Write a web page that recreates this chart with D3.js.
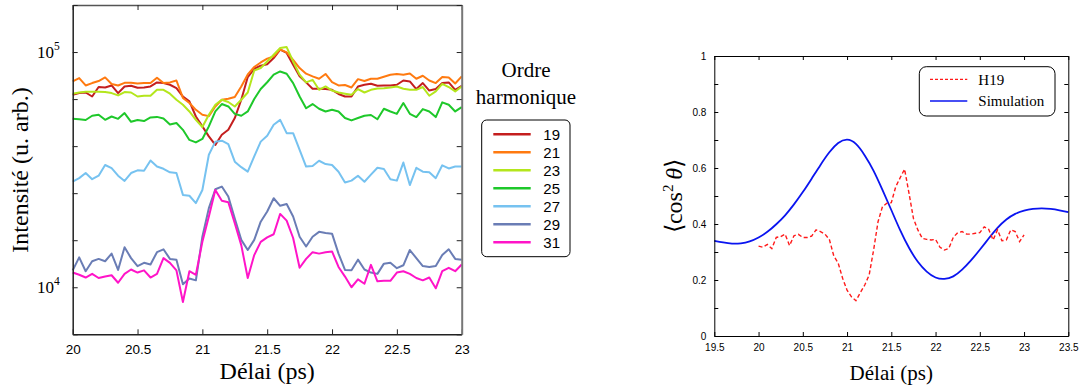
<!DOCTYPE html>
<html><head><meta charset="utf-8">
<script src="https://cdn.jsdelivr.net/npm/d3@7"></script>
<style>body{margin:0;background:#fff}svg{display:block}</style>
</head><body><svg id="c" width="1081" height="390"></svg>
<script>
// ---------- data ----------
const delays = [20,20.05,20.1,20.15,20.2,20.25,20.3,20.35,20.4,20.45,20.5,20.55,20.6,20.65,20.7,20.75,20.8,20.85,20.9,20.95,21,21.05,21.1,21.15,21.2,21.25,21.3,21.35,21.4,21.45,21.5,21.55,21.6,21.65,21.7,21.75,21.8,21.85,21.9,21.95,22,22.05,22.1,22.15,22.2,22.25,22.3,22.35,22.4,22.45,22.5,22.55,22.6,22.65,22.7,22.75,22.8,22.85,22.9,22.95,23];
const harmonics = ["19","21","23","25","27","29","31"];
const h19 = [65800,66900,67300,64700,71000,70700,72100,66900,71400,71900,70500,70700,71400,74300,73800,72600,70200,64700,61700,53200,48300,43800,40300,44500,46700,52400,62700,78300,84900,87500,88700,94300,102300,99100,88300,78800,74300,69800,69800,69600,69100,66300,64700,64700,71400,72600,73300,71900,72100,72100,72600,75700,75000,69600,73800,68600,69600,73800,74300,69100,71900];
const h21 = [75000,77500,72100,73800,75300,78000,73100,72100,74000,74000,73500,73800,73800,77800,73800,74300,75700,63800,60700,56800,54100,53400,58700,62700,63300,64400,71400,80300,86400,90300,93800,95800,102600,99700,92700,85500,80900,78800,77000,80700,74500,72100,72400,70700,76700,75300,77000,77000,78500,80100,80700,80100,81100,77000,79300,75700,73800,78300,78000,73500,78800];
const h23 = [66500,67300,67800,67800,67800,67600,66900,65400,67600,67300,64700,65200,65200,69100,69100,66500,62700,59700,55900,51500,48000,54100,59700,62700,61300,58700,62700,67300,83500,85500,91200,97400,104000,105000,91200,80100,74300,76200,69100,71400,68600,67300,66500,65800,69600,67300,69100,70000,70200,70700,71400,69800,69100,69100,71000,65200,68000,73300,71000,68000,71400];
const h25 = [52000,51800,51400,53600,54100,51500,53200,52000,55000,50500,51400,50900,52700,53000,52200,49200,49900,46700,42300,41300,42700,48300,55900,60100,58700,54600,53600,55900,63100,69600,74400,80100,82700,80900,73800,64700,57700,60100,57400,55900,56800,55900,52400,51200,52400,53600,54000,51800,57400,55900,54600,60700,54600,52900,57200,55900,52900,61100,59700,55900,58300];
const h27 = [28100,29100,30600,28800,29800,33100,32100,29800,28300,30600,31400,31300,34600,32600,31900,30800,30600,24700,24500,22800,25900,36600,41600,42000,40600,34200,32400,31000,36000,41600,44100,49100,51500,45200,45200,38400,32600,32800,34500,33400,33100,31000,27900,28400,29800,28100,30100,32200,31800,28800,28400,33900,27200,32200,31000,30800,29100,33000,32000,32600,32600];
const h29 = [11800,13400,11700,12900,13200,12900,13900,11850,14800,13300,12300,12700,12500,14100,14500,13200,13100,10300,10900,10700,16400,21700,26100,26800,24300,19600,15900,14400,15900,19000,21000,23900,22200,22600,20000,16400,14900,16400,17200,17000,16900,13900,11850,11800,13100,11900,11550,11400,12600,12700,12050,12400,14400,13300,12300,12200,12300,13700,14500,13200,13100];
const h31 = [11550,11300,11000,11400,10950,11100,11250,10450,11400,11900,11550,11800,11000,11400,13300,12700,11800,8650,11700,11300,15600,20000,25900,23300,23000,18700,15100,10950,13700,15600,16300,16800,20500,19200,16200,12100,13200,14100,13900,14100,14200,12200,11100,10000,10800,10350,12450,10600,10650,10650,11550,11700,11400,10950,10700,11000,9900,11700,12100,11700,12500];
const harmonicSeries = [h19,h21,h23,h25,h27,h29,h31];
const harmonicColors = ["#c41e1e","#ff7a10","#b4e61c","#1ec82a","#76c2f0","#6a7db5","#ff14c8"];

// right panel
const alignH19 = [0.321,0.317,0.327,0.312,0.352,0.355,0.364,0.323,0.358,0.363,0.352,0.352,0.357,0.379,0.373,0.364,0.345,0.286,0.260,0.206,0.164,0.140,0.126,0.155,0.182,0.218,0.307,0.408,0.462,0.474,0.476,0.533,0.565,0.596,0.510,0.420,0.379,0.349,0.345,0.343,0.345,0.317,0.307,0.313,0.352,0.369,0.373,0.364,0.364,0.367,0.369,0.390,0.381,0.343,0.379,0.340,0.343,0.379,0.373,0.337,0.361];
const simTimes = [19.5,19.6,19.7,19.8,19.9,20,20.1,20.2,20.3,20.4,20.5,20.6,20.7,20.8,20.9,21,21.1,21.2,21.3,21.4,21.5,21.6,21.7,21.8,21.9,22,22.1,22.2,22.3,22.4,22.5,22.6,22.7,22.8,22.9,23,23.1,23.2,23.3,23.4,23.5];
const simValues = [0.340,0.334,0.330,0.331,0.338,0.352,0.372,0.399,0.431,0.470,0.514,0.562,0.611,0.656,0.689,0.701,0.686,0.645,0.590,0.522,0.450,0.378,0.315,0.265,0.230,0.209,0.204,0.213,0.237,0.270,0.308,0.348,0.386,0.416,0.436,0.448,0.454,0.456,0.454,0.449,0.442];

// ticks
const leftXTicks = [20,20.5,21,21.5,22,22.5,23];
const leftYTickMarks = [Math.pow(10,3.8),1e4,Math.pow(10,4.2),Math.pow(10,4.4),Math.pow(10,4.6),Math.pow(10,4.8),1e5,Math.pow(10,5.2)];
const leftYLabels = [[1e4,"10","4"],[1e5,"10","5"]];
const rightXTicks = [19.5,20,20.5,21,21.5,22,22.5,23,23.5];
const rightYTicks = [0,0.1,0.2,0.3,0.4,0.5,0.6,0.7,0.8,0.9,1];
const rightYLabelTicks = [0,0.2,0.4,0.6,0.8,1];

// ---------- drawing ----------
const svg = d3.select("#c");
const SERIF = "'Liberation Serif','Times New Roman',serif";
const SANS = "'Liberation Sans',Arial,Helvetica,sans-serif";

// ===== left panel =====
const L = {x0:72.7, x1:461.7, y0:5, y1:334.3};
const xL = d3.scaleLinear().domain([20,23]).range([L.x0,L.x1]);
const yL = d3.scaleLog().domain([Math.pow(10,3.8),Math.pow(10,5.2)]).range([L.y1,L.y0]);

const gL = svg.append("g");
const lineL = (vals) => d3.line().x((d,i)=>xL(delays[i])).y(d=>yL(d))(vals);
harmonicSeries.forEach((s,i)=>{
  gL.append("path").attr("d",lineL(s)).attr("fill","none")
    .attr("stroke",harmonicColors[i]).attr("stroke-width",2).attr("stroke-linejoin","round");
});
function styleAxis(g, color){
  g.select(".domain").attr("stroke",color).attr("stroke-width",1.5);
  g.selectAll(".tick line").attr("stroke","#222").attr("stroke-width",1);
}
const axB = gL.append("g").attr("transform",`translate(0,${L.y1})`)
  .call(d3.axisBottom(xL).tickValues(leftXTicks).tickSize(-5).tickSizeOuter(0).tickPadding(10).tickFormat(d=>d3.format("")(d)));
styleAxis(axB,"#222");
axB.selectAll("text").attr("font-family",SANS).attr("font-size",13.5).attr("fill","#000");
const axT = gL.append("g").attr("transform",`translate(0,${L.y0})`)
  .call(d3.axisTop(xL).tickValues(leftXTicks).tickSize(-5).tickSizeOuter(0).tickFormat(""));
styleAxis(axT,"#555");
const axLf = gL.append("g").attr("transform",`translate(${L.x0},0)`)
  .call(d3.axisLeft(yL).tickValues(leftYTickMarks).tickSize(-5).tickSizeOuter(0).tickFormat(""));
styleAxis(axLf,"#222");
const axR = gL.append("g").attr("transform",`translate(${L.x1},0)`)
  .call(d3.axisRight(yL).tickValues(leftYTickMarks).tickSize(-5).tickSizeOuter(0).tickFormat(""));
styleAxis(axR,"#777");
axR.select(".domain").attr("stroke-width",2);
leftYLabels.forEach(([v,base,exp])=>{
  const t = gL.append("text").attr("x",L.x0-13).attr("y",yL(v)+6)
    .attr("text-anchor","end").attr("font-family",SERIF).attr("font-size",17).attr("fill","#000");
  t.append("tspan").text(base);
  t.append("tspan").attr("dy",-8).attr("font-size",11.5).text(exp);
});
gL.append("text").attr("x",(L.x0+L.x1)/2).attr("y",379).attr("text-anchor","middle")
  .attr("font-family",SERIF).attr("font-size",24).text("Délai (ps)");
gL.append("text").attr("transform",`translate(28,170) rotate(-90)`).attr("text-anchor","middle")
  .attr("font-family",SERIF).attr("font-size",24).text("Intensité (u. arb.)");

// legend
const leg = svg.append("g");
leg.append("text").attr("x",526).attr("y",77).attr("text-anchor","middle")
  .attr("font-family",SERIF).attr("font-size",21).text("Ordre");
leg.append("text").attr("x",526).attr("y",103.5).attr("text-anchor","middle")
  .attr("font-family",SERIF).attr("font-size",21).text("harmonique");
leg.append("rect").attr("x",481.7).attr("y",120).attr("width",88.3).attr("height",136.7)
  .attr("rx",5).attr("fill","none").attr("stroke","#000").attr("stroke-width",1);
harmonics.forEach((h,i)=>{
  const y = 134.3 + 18*i;
  leg.append("line").attr("x1",493.3).attr("x2",530.7).attr("y1",y).attr("y2",y)
    .attr("stroke",harmonicColors[i]).attr("stroke-width",2.5);
  leg.append("text").attr("x",560).attr("y",y+5.3).attr("text-anchor","end")
    .attr("font-family",SANS).attr("font-size",15).text(h);
});

// ===== right panel =====
const R = {x0:714.3, x1:1068.3, y0:56, y1:336};
const xR = d3.scaleLinear().domain([19.5,23.5]).range([R.x0,R.x1]);
const yR = d3.scaleLinear().domain([0,1]).range([R.y1,R.y0]);
const gR = svg.append("g");

gR.append("path").attr("d",d3.line().curve(d3.curveNatural).x((d,i)=>xR(simTimes[i])).y(d=>yR(d))(simValues))
  .attr("fill","none").attr("stroke","#0a14f0").attr("stroke-width",1.8);
gR.append("path").attr("d",d3.line().x((d,i)=>xR(delays[i])).y(d=>yR(d))(alignH19))
  .attr("fill","none").attr("stroke","#ff1a1a").attr("stroke-width",1.4).attr("stroke-dasharray","4,2.5");

function styleR(g){
  g.select(".domain").attr("stroke","#000").attr("stroke-width",1);
  g.selectAll(".tick line").attr("stroke","#000").attr("stroke-width",1);
  g.selectAll("text").attr("font-family",SANS).attr("font-size",10).attr("fill","#000");
}
const rB = gR.append("g").attr("transform",`translate(0,${R.y1})`)
  .call(d3.axisBottom(xR).tickValues(rightXTicks).tickSize(-4).tickSizeOuter(0).tickPadding(8).tickFormat(d=>d3.format("")(d)));
styleR(rB);
const rT = gR.append("g").attr("transform",`translate(0,${R.y0})`)
  .call(d3.axisTop(xR).tickValues(rightXTicks).tickSize(-4).tickSizeOuter(0).tickFormat(""));
styleR(rT);
const rL = gR.append("g").attr("transform",`translate(${R.x0},0)`)
  .call(d3.axisLeft(yR).tickValues(rightYTicks).tickSize(-4).tickSizeOuter(0).tickPadding(8)
    .tickFormat(d=> rightYLabelTicks.some(v=>Math.abs(v-d)<1e-9) ? d3.format("")(d) : ""));
styleR(rL);
const rR = gR.append("g").attr("transform",`translate(${R.x1},0)`)
  .call(d3.axisRight(yR).tickValues(rightYTicks).tickSize(-4).tickSizeOuter(0).tickFormat(""));
styleR(rR);

gR.append("text").attr("x",(R.x0+R.x1)/2).attr("y",380).attr("text-anchor","middle")
  .attr("font-family",SERIF).attr("font-size",21).text("Délai (ps)");
const yt = gR.append("text").attr("transform",`translate(682,196) rotate(-90)`).attr("text-anchor","middle")
  .attr("font-family",SERIF).attr("font-size",24);
yt.append("tspan").text("\u27E8cos");
yt.append("tspan").attr("dy",-9).attr("font-size",15).text("2");
yt.append("tspan").attr("dy",9).text("\u2009");
yt.append("tspan").attr("font-style","italic").text("\u03B8");
yt.append("tspan").text("\u27E9");

const lg = gR.append("g");
lg.append("rect").attr("x",919.3).attr("y",66.7).attr("width",135.7).attr("height",49.3)
  .attr("rx",7).attr("fill","#fff").attr("stroke","#000").attr("stroke-width",1);
lg.append("line").attr("x1",930).attr("x2",967.3).attr("y1",79.3).attr("y2",79.3)
  .attr("stroke","#ff1a1a").attr("stroke-width",1.2).attr("stroke-dasharray","3,2");
lg.append("text").attr("x",978.3).attr("y",84.5).attr("font-family",SERIF).attr("font-size",15).text("H19");
lg.append("line").attr("x1",930).attr("x2",967.3).attr("y1",101).attr("y2",101)
  .attr("stroke","#0a14f0").attr("stroke-width",1.6);
lg.append("text").attr("x",978.3).attr("y",106.3).attr("font-family",SERIF).attr("font-size",15).text("Simulation");
</script>
</body></html>
